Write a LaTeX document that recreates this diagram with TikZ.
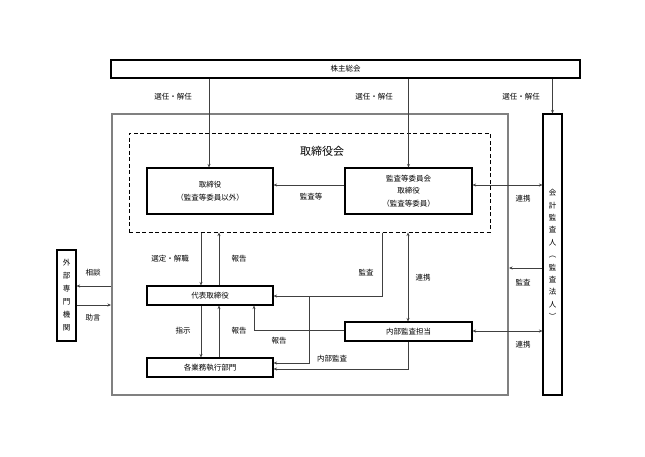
\documentclass[tikz,border=0pt]{standalone}
\usepackage{fontspec}
\setmainfont{Noto Sans CJK JP}
\usetikzlibrary{arrows.meta}
\begin{document}
\begin{tikzpicture}[x=1pt,y=-1pt,
  box/.style={draw=black,line width=1.1pt,fill=white,inner sep=0pt,align=center,font=\fontsize{7.5}{11}\selectfont},
  lbl/.style={inner sep=0pt,font=\fontsize{7.5}{9}\selectfont},
  conn/.style={draw=black!75,line width=0.6pt},
  arr/.style={conn,-{Stealth[length=3.5pt,width=3pt]}},
  darr/.style={conn,{Stealth[length=3.5pt,width=3pt]}-{Stealth[length=3.5pt,width=3pt]}}]
\useasboundingbox (0,0) rectangle (645,456);
% containers
\node[draw=black!50,line width=2pt,minimum width=396pt,minimum height=281pt,inner sep=0pt] (outer) at (310,254.5) {};
\node[draw=black,dashed,line width=1pt,dash pattern=on 4pt off 2.5pt,minimum width=361pt,minimum height=99pt,inner sep=0pt] (dash) at (309.5,182.5) {};
\node[lbl,font=\fontsize{11}{13}\selectfont] (title) at (322,151) {取締役会};
% boxes
\node[box,minimum width=469pt,minimum height=18pt] (gm) at (345.5,69) {株主総会};
\node[box,minimum width=126pt,minimum height=46pt,font=\fontsize{7.5}{13}\selectfont] (dir) at (210,191) {取締役\\（監査等委員以外）};
\node[box,minimum width=127pt,minimum height=46pt,font=\fontsize{7.5}{12.5}\selectfont] (aud) at (408.5,191) {監査等委員会\\取締役\\（監査等委員）};
\node[box,minimum width=126pt,minimum height=19pt] (rep) at (210,295.5) {代表取締役};
\node[box,minimum width=126pt,minimum height=19pt] (exec) at (210,367.5) {各業務執行部門};
\node[box,minimum width=127pt,minimum height=19pt] (ia) at (408.5,331.5) {内部監査担当};
\node[box,minimum width=19pt,minimum height=91pt,font=\fontsize{7.5}{13}\selectfont] (ext) at (66.5,295.5) {外\\部\\専\\門\\機\\関};
\node[box,minimum width=19pt,minimum height=281pt,font=\fontsize{7.5}{12.4}\selectfont] (acc) at (552.5,254.5) {会\\計\\監\\査\\人\\︵\\監\\査\\法\\人\\︶};
% helper coordinates
\coordinate (xa) at (201,0);
\coordinate (xb) at (219,0);
\coordinate (xm) at (382,0);
\coordinate (xk) at (309,0);
\coordinate (xr) at (254,0);
\coordinate (xc) at (408,0);
\coordinate (xg1) at (209,0);
\coordinate (y185) at (0,185);
\coordinate (y268) at (0,268);
\coordinate (y331) at (0,331);
\coordinate (y286) at (0,286);
\coordinate (y305) at (0,305);
\coordinate (y296) at (0,296);
\coordinate (y363) at (0,363);
\coordinate (y369) at (0,369);
\coordinate (y330) at (0,330);
% connectors from general meeting
\draw[arr] (gm.south -| xg1) -- (dir.north -| xg1);
\draw[arr] (aud.north |- gm.south) -- (aud.north);
\draw[arr] (acc.north |- gm.south) -- (acc.north);
\node[lbl] (l1) at (173,97) {選任・解任};
\node[lbl] (l2) at (374,97) {選任・解任};
\node[lbl] (l3) at (521,97) {選任・解任};
% board internal
\draw[arr] (aud.west |- y185) -- (dir.east |- y185);
\node[lbl] (l4) at (311,197) {監査等};
% accounting auditor
\draw[darr] (aud.east |- y185) -- (acc.west |- y185);
\node[lbl] (l5) at (523,199) {連携};
\draw[arr] (acc.west |- y268) -- (outer.east |- y268);
\node[lbl] (l6) at (523,283) {監査};
\draw[darr] (ia.east |- y331) -- (acc.west |- y331);
\node[lbl] (l7) at (523,345) {連携};
% external
\draw[arr] (outer.west |- y286) -- (ext.east |- y286);
\node[lbl] (l8) at (93,273) {相談};
\draw[arr] (ext.east |- y305) -- (outer.west |- y305);
\node[lbl] (l9) at (93,318) {助言};
% board - representative
\draw[arr] (dash.south -| xa) -- (rep.north -| xa);
\node[lbl] (l10) at (170,259) {選定・解職};
\draw[arr] (rep.north -| xb) -- (dash.south -| xb);
\node[lbl] (l11) at (239,259) {報告};
\draw[arr] (rep.south -| xa) -- (exec.north -| xa);
\node[lbl] (l12) at (183,331) {指示};
\draw[arr] (exec.north -| xb) -- (rep.south -| xb);
\node[lbl] (l13) at (239,331) {報告};
% audit lines
\draw[arr] (dash.south -| xm) -- (xm |- y296) -- (rep.east |- y296);
\draw[arr] (xk |- y296) -- (xk |- y363) -- (exec.east |- y363);
\node[lbl] (l14) at (366,273) {監査};
\draw[darr] (dash.south -| xc) -- (ia.north -| xc);
\node[lbl] (l15) at (423,278) {連携};
\draw[arr] (ia.west |- y330) -- (xr |- y330) -- (rep.south -| xr);
\node[lbl] (l16) at (279,341) {報告};
\draw[arr] (ia.south -| xc) -- (xc |- y369) -- (exec.east |- y369);
\node[lbl] (l17) at (332,359) {内部監査};
\end{tikzpicture}
\end{document}
